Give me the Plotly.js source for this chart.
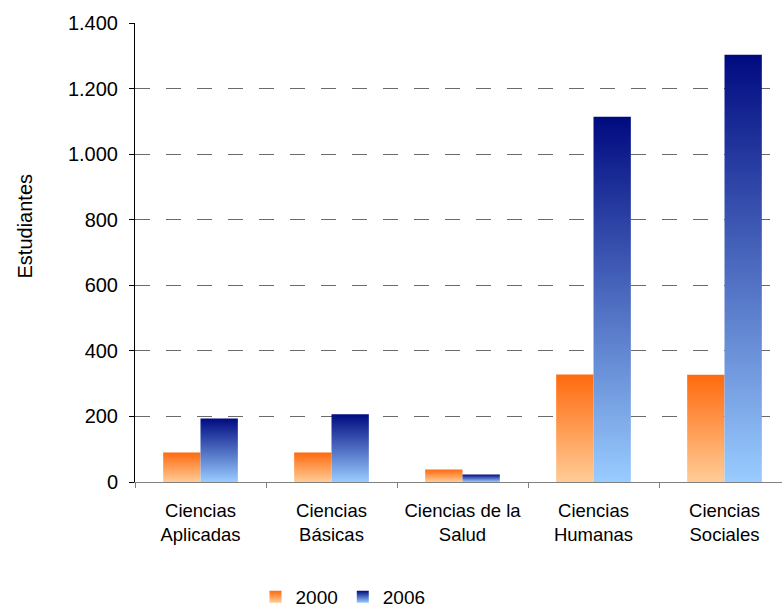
<!DOCTYPE html>
<html>
<head>
<meta charset="utf-8">
<script src="https://cdn.plot.ly/plotly-3.0.1.min.js"></script>
<style>html,body{margin:0;padding:0;background:#fff;}#chart{width:782px;height:609px;}</style>
</head>
<body>
<div id="chart"></div>
<script>
const categories = ["Ciencias<br>Aplicadas", "Ciencias<br>Básicas", "Ciencias de la<br>Salud", "Ciencias<br>Humanas", "Ciencias<br>Sociales"];
const values2000 = [90, 90, 38, 328, 327];
const values2006 = [194, 207, 23, 1114, 1303];
const yTicks = [0, 200, 400, 600, 800, 1000, 1200, 1400];
const seriesNames = ["2000", "2006"];

const FONT = "Liberation Sans, Arial, sans-serif";

const data = [
  {type: "bar", x: categories, y: values2000, name: seriesNames[0],
   marker: {color: "#FF8A3A", line: {width: 0}}},
  {type: "bar", x: categories, y: values2006, name: seriesNames[1],
   marker: {color: "#4A66B8", line: {width: 0}}}
];

const layout = {
  width: 782, height: 609,
  margin: {l: 135, r: 0, t: 23, b: 126.5, autoexpand: false},
  paper_bgcolor: "#fff", plot_bgcolor: "#fff",
  separators: ",.",
  font: {family: FONT, size: 19, color: "#000"},
  barmode: "group",
  bargap: 0.43,
  bargroupgap: 0,
  showlegend: true,
  legend: {orientation: "h", xref: "paper", x: (343 - 135) / 647, xanchor: "center",
           yref: "paper", y: (482.5 - 597.5) / 459.5, yanchor: "middle",
           font: {size: 19}, itemwidth: 30, traceorder: "normal",
           bgcolor: "rgba(0,0,0,0)"},
  xaxis: {
    type: "category",
    range: [-0.5, -0.5 + 647/131],
    showline: true, linecolor: "#808080", linewidth: 1.3,
    ticks: "outside", tickson: "boundaries", ticklen: 5, tickcolor: "#808080",
    showgrid: false, zeroline: false,
    tickfont: {size: 18.5, family: FONT},
    ticklabelstandoff: 11
  },
  yaxis: {
    range: [0, 1400],
    tickvals: yTicks,
    tickformat: ",d",
    showline: true, linecolor: "#000", linewidth: 1,
    ticks: "outside", ticklen: 5, tickcolor: "#000",
    showgrid: true, gridcolor: "#6a6a6a", gridwidth: 1.2, griddash: "15px,16px",
    zeroline: false,
    tickfont: {size: 20, family: FONT},
    ticklabelstandoff: 7
  },
  annotations: [{
    text: "Estudiantes", textangle: -90, showarrow: false,
    xref: "paper", yref: "paper",
    x: (25 - 135) / 647, y: (482.5 - 226.7) / (482.5 - 23),
    xanchor: "center", yanchor: "middle",
    font: {size: 20, family: FONT}
  }]
};

function applyGradients(gd) {
  const svg = gd.querySelector("svg.main-svg");
  if (!svg) return;
  const ns = "http://www.w3.org/2000/svg";
  let defs = svg.querySelector("defs#customgrad");
  if (!defs) {
    defs = document.createElementNS(ns, "defs");
    defs.setAttribute("id", "customgrad");
    const grads = [
      {id: "gradOrange", top: "#FF6A0E", bottom: "#FFCC96"},
      {id: "gradBlue", top: "#000A80", bottom: "#99CCFF"}
    ];
    grads.forEach(g => {
      const lg = document.createElementNS(ns, "linearGradient");
      lg.setAttribute("id", g.id);
      lg.setAttribute("x1", "0"); lg.setAttribute("y1", "0");
      lg.setAttribute("x2", "0"); lg.setAttribute("y2", "1");
      const s1 = document.createElementNS(ns, "stop");
      s1.setAttribute("offset", "0"); s1.setAttribute("stop-color", g.top);
      const s2 = document.createElementNS(ns, "stop");
      s2.setAttribute("offset", "1"); s2.setAttribute("stop-color", g.bottom);
      lg.appendChild(s1); lg.appendChild(s2);
      defs.appendChild(lg);
    });
    svg.insertBefore(defs, svg.firstChild);
  }
  const ids = ["gradOrange", "gradBlue"];
  gd.querySelectorAll("g.barlayer g.trace.bars").forEach((tr, i) => {
    tr.querySelectorAll("path").forEach(p => { p.style.fill = "url(#" + ids[i % 2] + ")"; });
  });
  gd.querySelectorAll("g.legend g.traces").forEach((tr, i) => {
    tr.querySelectorAll("g.legendpoints path").forEach(p => { p.style.fill = "url(#" + ids[i % 2] + ")"; });
  });
}

const gd = document.getElementById("chart");
Plotly.newPlot(gd, data, layout, {displayModeBar: false, staticPlot: true}).then(() => {
  applyGradients(gd);
  gd.on("plotly_afterplot", () => applyGradients(gd));
});
</script>
</body>
</html>
